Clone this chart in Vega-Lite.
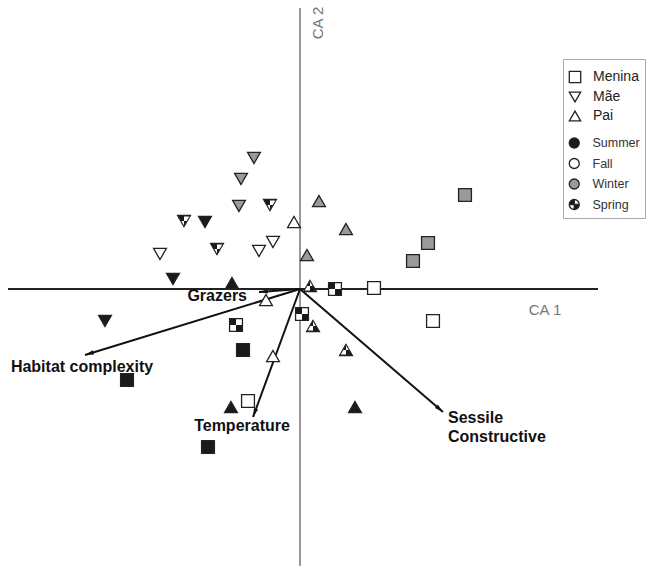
{
  "$schema": "https://vega.github.io/schema/vega-lite/v6.json",
  "width": 646,
  "height": 566,
  "autosize": {"type": "none"},
  "padding": 0,
  "background": "white",
  "config": {"view": {"stroke": null}, "font": "Liberation Sans"},
  "datasets": {
    "samples": [
      {"group": "Mãe", "season": "Winter", "ca1": -0.46, "ca2": 1.31},
      {"group": "Mãe", "season": "Winter", "ca1": -0.59, "ca2": 1.10},
      {"group": "Mãe", "season": "Winter", "ca1": -0.61, "ca2": 0.83},
      {"group": "Mãe", "season": "Spring", "ca1": -0.30, "ca2": 0.84},
      {"group": "Mãe", "season": "Spring", "ca1": -1.16, "ca2": 0.68},
      {"group": "Mãe", "season": "Summer", "ca1": -0.95, "ca2": 0.67},
      {"group": "Mãe", "season": "Spring", "ca1": -0.83, "ca2": 0.40},
      {"group": "Mãe", "season": "Fall", "ca1": -1.40, "ca2": 0.35},
      {"group": "Mãe", "season": "Fall", "ca1": -0.41, "ca2": 0.38},
      {"group": "Mãe", "season": "Fall", "ca1": -0.27, "ca2": 0.47},
      {"group": "Mãe", "season": "Summer", "ca1": -1.27, "ca2": 0.10},
      {"group": "Mãe", "season": "Summer", "ca1": -1.95, "ca2": -0.32},
      {"group": "Pai", "season": "Fall", "ca1": -0.06, "ca2": 0.67},
      {"group": "Pai", "season": "Winter", "ca1": 0.19, "ca2": 0.88},
      {"group": "Pai", "season": "Winter", "ca1": 0.46, "ca2": 0.60},
      {"group": "Pai", "season": "Winter", "ca1": 0.07, "ca2": 0.34},
      {"group": "Pai", "season": "Summer", "ca1": -0.68, "ca2": 0.06},
      {"group": "Pai", "season": "Spring", "ca1": 0.10, "ca2": 0.03},
      {"group": "Pai", "season": "Fall", "ca1": -0.34, "ca2": -0.11},
      {"group": "Pai", "season": "Spring", "ca1": 0.13, "ca2": -0.37},
      {"group": "Pai", "season": "Spring", "ca1": 0.46, "ca2": -0.61},
      {"group": "Pai", "season": "Fall", "ca1": -0.27, "ca2": -0.67},
      {"group": "Pai", "season": "Summer", "ca1": -0.69, "ca2": -1.18},
      {"group": "Pai", "season": "Summer", "ca1": 0.55, "ca2": -1.18},
      {"group": "Menina", "season": "Winter", "ca1": 1.65, "ca2": 0.94},
      {"group": "Menina", "season": "Winter", "ca1": 1.28, "ca2": 0.46},
      {"group": "Menina", "season": "Winter", "ca1": 1.13, "ca2": 0.28},
      {"group": "Menina", "season": "Spring", "ca1": 0.35, "ca2": 0.00},
      {"group": "Menina", "season": "Fall", "ca1": 0.74, "ca2": 0.01},
      {"group": "Menina", "season": "Spring", "ca1": 0.02, "ca2": -0.25},
      {"group": "Menina", "season": "Fall", "ca1": 1.33, "ca2": -0.32},
      {"group": "Menina", "season": "Spring", "ca1": -0.64, "ca2": -0.36},
      {"group": "Menina", "season": "Summer", "ca1": -0.57, "ca2": -0.61},
      {"group": "Menina", "season": "Summer", "ca1": -1.73, "ca2": -0.91},
      {"group": "Menina", "season": "Fall", "ca1": -0.52, "ca2": -1.12},
      {"group": "Menina", "season": "Summer", "ca1": -0.92, "ca2": -1.58}
    ],
    "vectors": [
      {"name": "Grazers", "ca1": -0.41, "ca2": -0.03},
      {"name": "Habitat complexity", "ca1": -2.15, "ca2": -0.66},
      {"name": "Temperature", "ca1": -0.47, "ca2": -1.28},
      {"name": "Sessile Constructive", "ca1": 1.43, "ca2": -1.23}
    ]
  },
  "layer": [
    {
      "data": {"values": [{}]},
      "mark": {"type": "rule", "color": "#777", "strokeWidth": 1.5},
      "encoding": {
        "x": {"datum": 0, "type": "quantitative", "scale": {"domain": [-3, 3.46], "nice": false, "zero": false}, "axis": null},
        "y": {"datum": 2.81, "type": "quantitative", "scale": {"domain": [-2.77, 2.89], "nice": false, "zero": false}, "axis": null},
        "y2": {"datum": -2.77}
      }
    },
    {
      "data": {"values": [{}]},
      "mark": {"type": "rule", "color": "#222", "strokeWidth": 2},
      "encoding": {
        "x": {"datum": -2.92, "type": "quantitative"},
        "x2": {"datum": 2.98},
        "y": {"datum": 0, "type": "quantitative"}
      }
    },
    {
      "data": {"values": [{}]},
      "mark": {"type": "text", "text": "CA 1", "fontSize": 15, "color": "#777", "align": "center", "baseline": "middle"},
      "encoding": {
        "x": {"datum": 2.45, "type": "quantitative"},
        "y": {"datum": -0.21, "type": "quantitative"}
      }
    },
    {
      "data": {"values": [{}]},
      "mark": {"type": "text", "text": "CA 2", "fontSize": 15, "color": "#777", "align": "center", "baseline": "middle", "angle": 270},
      "encoding": {
        "x": {"datum": 0.18, "type": "quantitative"},
        "y": {"datum": 2.66, "type": "quantitative"}
      }
    },
    {
      "data": {"name": "vectors"},
      "mark": {"type": "rule", "color": "#111", "strokeWidth": 2},
      "encoding": {
        "x": {"field": "ca1", "type": "quantitative"},
        "y": {"field": "ca2", "type": "quantitative"},
        "x2": {"datum": 0},
        "y2": {"datum": 0}
      }
    },
    {
      "data": {"name": "vectors"},
      "transform": [{"calculate": "atan2(datum.ca1, datum.ca2) * 180 / PI", "as": "ang"}],
      "mark": {"type": "point", "filled": true, "color": "#111", "opacity": 1, "size": 64, "shape": "M0,0L-0.55,2.2L0.55,2.2Z"},
      "encoding": {
        "x": {"field": "ca1", "type": "quantitative"},
        "y": {"field": "ca2", "type": "quantitative"},
        "angle": {"field": "ang", "type": "quantitative", "scale": null}
      }
    },
    {
      "data": {"name": "samples"},
      "mark": {"type": "point", "filled": true, "opacity": 1, "size": 165, "stroke": "#222", "strokeWidth": 1.3},
      "encoding": {
        "x": {"field": "ca1", "type": "quantitative"},
        "y": {"field": "ca2", "type": "quantitative"},
        "shape": {
          "field": "group", "type": "nominal",
          "scale": {"domain": ["Menina", "Mãe", "Pai"], "range": ["square", "triangle-down", "triangle-up"]},
          "legend": {
            "title": null, "orient": "none", "legendX": 563, "legendY": 65, "padding": 5,
            "symbolSize": 130, "symbolFillColor": "white", "symbolStrokeColor": "#222", "symbolStrokeWidth": 1.3,
            "labelFontSize": 14, "labelOffset": 11, "rowPadding": 3, "labelColor": "#222"
          }
        },
        "fill": {
          "field": "season", "type": "nominal",
          "scale": {
            "domain": ["Summer", "Fall", "Winter", "Spring"],
            "range": ["#1a1a1a", "#ffffff", "#9a9a9a", "#1a1a1a"]
          },
          "legend": {
            "title": "\u00a0\u00a0\u00a0\u00a0\u00a0\u00a0\u00a0\u00a0\u00a0\u00a0\u00a0\u00a0\u00a0\u00a0\u00a0\u00a0\u00a0\u00a0\u00a0\u00a0\u00a0\u00a0\u00a0",
            "titleFontSize": 10, "titlePadding": 62.75,
            "orient": "none", "legendX": 563, "legendY": 59, "padding": 5, "strokeColor": "#aaa",
            "symbolType": {"expr": "datum.value === 'Spring' ? 'M1,0A1,1 0 1,1 -1,0A1,1 0 1,1 1,0Z M0,0L1,0A1,1 0 0,0 0,-1Z M0,0L-1,0A1,1 0 0,0 0,1Z' : 'circle'"},
            "symbolSize": 100, "symbolStrokeColor": "#222", "symbolStrokeWidth": 1.3,
            "labelFontSize": 12.5, "labelOffset": 12, "rowPadding": 4.5, "labelColor": "#333"
          }
        }
      }
    },
    {
      "data": {"name": "samples"},
      "transform": [{"filter": "datum.season === 'Spring'"}],
      "mark": {"type": "point", "filled": true, "opacity": 1, "size": 165, "color": "#ffffff", "strokeWidth": 0},
      "encoding": {
        "x": {"field": "ca1", "type": "quantitative"},
        "y": {"field": "ca2", "type": "quantitative"},
        "shape": {
          "field": "group", "type": "nominal",
          "scale": {"domain": ["Menina", "Mãe", "Pai"], "range": ["M0,-0.9H0.9V0H0Z M-0.9,0H0V0.9H-0.9Z", "M0,-0.71L0.82,-0.71L0.41,0L0,0Z M-0.41,0L0,0L0,0.71Z", "M0,-0.71L0.41,0L0,0Z M-0.41,0L0,0L0,0.71L-0.82,0.71Z"]},
          "legend": null
        }
      }
    },
    {
      "data": {"name": "vectors"},
      "transform": [{"filter": "datum.name === 'Grazers'"}],
      "mark": {"type": "text", "fontSize": 16, "fontWeight": "bold", "color": "#111", "align": "right", "baseline": "middle", "dx": -12, "dy": 4},
      "encoding": {
        "x": {"field": "ca1", "type": "quantitative"},
        "y": {"field": "ca2", "type": "quantitative"},
        "text": {"field": "name"}
      }
    },
    {
      "data": {"name": "vectors"},
      "transform": [{"filter": "datum.name === 'Habitat complexity'"}],
      "mark": {"type": "text", "fontSize": 16, "fontWeight": "bold", "color": "#111", "align": "center", "baseline": "middle", "dx": -3, "dy": 12},
      "encoding": {
        "x": {"field": "ca1", "type": "quantitative"},
        "y": {"field": "ca2", "type": "quantitative"},
        "text": {"field": "name"}
      }
    },
    {
      "data": {"name": "vectors"},
      "transform": [{"filter": "datum.name === 'Temperature'"}],
      "mark": {"type": "text", "fontSize": 16, "fontWeight": "bold", "color": "#111", "align": "center", "baseline": "middle", "dx": -11, "dy": 9},
      "encoding": {
        "x": {"field": "ca1", "type": "quantitative"},
        "y": {"field": "ca2", "type": "quantitative"},
        "text": {"field": "name"}
      }
    },
    {
      "data": {"name": "vectors"},
      "transform": [{"filter": "datum.name === 'Sessile Constructive'"}],
      "mark": {"type": "text", "fontSize": 16, "fontWeight": "bold", "color": "#111", "align": "left", "baseline": "middle", "dx": 5, "dy": 5.5, "lineBreak": " ", "lineHeight": 19},
      "encoding": {
        "x": {"field": "ca1", "type": "quantitative"},
        "y": {"field": "ca2", "type": "quantitative"},
        "text": {"field": "name"}
      }
    }
  ],
  "resolve": {"scale": {"shape": "independent"}}
}
